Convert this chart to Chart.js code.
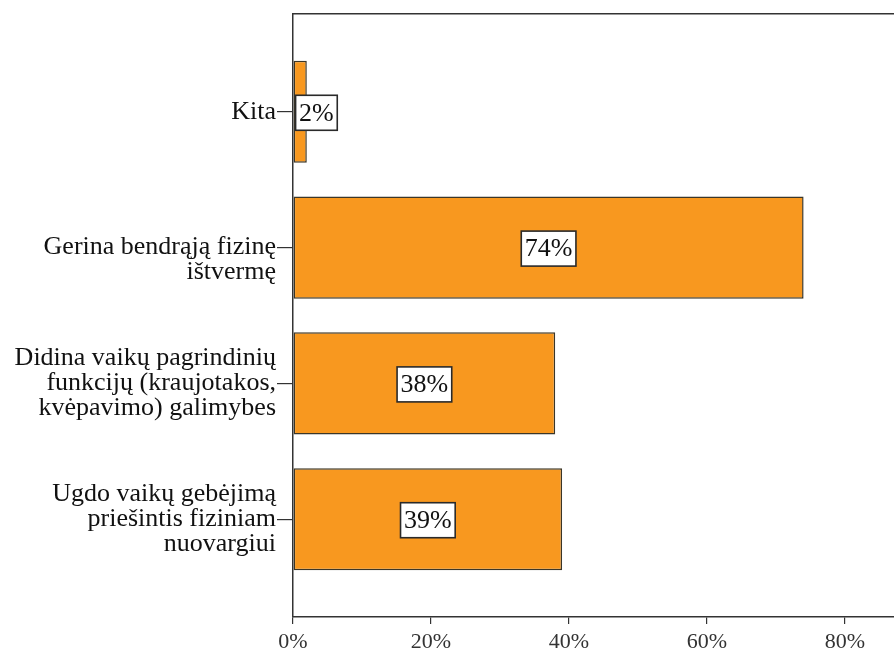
<!DOCTYPE html>
<html>
<head>
<meta charset="utf-8">
<script src="https://cdn.jsdelivr.net/npm/chart.js@4/dist/chart.umd.min.js"></script>
<style>
  html, body { margin: 0; padding: 0; background: #fff; overflow: hidden; }
  canvas { display: block; }
</style>
</head>
<body>
<canvas id="chart" width="894" height="653"></canvas>
<script>
// answers, top to bottom (multi-line labels as arrays)
const categories = [
    ['Kita'],
    ['Gerina bendrąją fizinę', 'ištvermę'],
    ['Didina vaikų pagrindinių', 'funkcijų (kraujotakos,', 'kvėpavimo) galimybes'],
    ['Ugdo vaikų gebėjimą', 'priešintis fiziniam', 'nuovargiui']
]
// share of respondents, %
const shares = [2, 74, 38, 39]
const percentTicks = [0, 20, 40, 60, 80]

const serif = '"Liberation Serif", "Times New Roman", serif'
const axisColor = '#333'
const xMax = 87.1

// two-line labels sit with their first line on the tick, so pad them on top
const tickLines = (lines) => lines.length % 2 === 0 ? [''].concat(lines) : lines

const noPadding = (scale) => {
    scale.paddingTop = 0
    scale.paddingBottom = 0
    scale.paddingLeft = 0
    scale.paddingRight = 0
}

// white boxed value label on every bar; pushed to the right of the base when the bar is too short
const valueBoxes = {
    id: 'valueBoxes',
    afterDatasetsDraw(chart) {
        const ctx = chart.ctx
        const meta = chart.getDatasetMeta(0)
        ctx.save()
        ctx.font = '26px ' + serif
        meta.data.forEach((bar, i) => {
            const text = shares[i] + '%'
            const w = ctx.measureText(text).width + 7
            const h = 35
            const len = bar.x - bar.base
            let cx = (bar.x + bar.base) / 2
            if (w > len - 4) cx = bar.base + 2 + w / 2
            const cy = bar.y + 1
            ctx.fillStyle = '#fff'
            ctx.fillRect(cx - w / 2, cy - h / 2, w, h)
            ctx.lineWidth = 1.6
            ctx.strokeStyle = '#2a2a2a'
            ctx.strokeRect(cx - w / 2, cy - h / 2, w, h)
            ctx.fillStyle = '#111'
            ctx.textAlign = 'center'
            ctx.textBaseline = 'middle'
            ctx.fillText(text, cx, cy + 1)
        })
        ctx.restore()
    }
}

new Chart(document.getElementById('chart'), {
    type: 'bar',
    data: {
        datasets: [{
            data: shares.map((v, i) => ({x: v, y: i})),
            backgroundColor: '#F8981F',
            borderColor: '#3b3628',
            borderWidth: 1.5,
            borderSkipped: false,
            categoryPercentage: 1,
            barPercentage: 0.752
        }]
    },
    options: {
        indexAxis: 'y',
        responsive: false,
        animation: false,
        layout: {autoPadding: false, padding: {top: 14, right: 0, bottom: 0, left: 0}},
        plugins: {legend: {display: false}, tooltip: {enabled: false}},
        scales: {
            y: {
                type: 'linear',
                reverse: true,
                offset: false,
                min: -0.72,
                max: 3.72,
                afterBuildTicks: (scale) => {
                    scale.ticks = categories.map((_, i) => ({value: i}))
                },
                afterFit: (scale) => {
                    scale.width = 293
                    noPadding(scale)
                },
                ticks: {
                    callback: (v) => tickLines(categories[v]),
                    color: '#111',
                    padding: 1,
                    font: {family: serif, size: 26, lineHeight: 0.96}
                },
                grid: {display: true, offset: false, drawOnChartArea: false, tickLength: 16, color: axisColor, lineWidth: 1.2},
                border: {display: true, color: axisColor, width: 1.5}
            },
            x: {
                type: 'linear',
                min: 0,
                max: xMax,
                afterBuildTicks: (scale) => {
                    scale.ticks = percentTicks.map(v => ({value: v}))
                },
                afterFit: (scale) => {
                    scale.height = 36
                    noPadding(scale)
                },
                ticks: {
                    callback: (v) => v + '%',
                    color: '#333',
                    padding: 5,
                    font: {family: serif, size: 22}
                },
                grid: {display: true, drawOnChartArea: false, tickLength: 7, color: axisColor, lineWidth: 1.2},
                border: {display: true, color: axisColor, width: 1.5}
            },
            // frame line along the top of the plot
            top: {
                type: 'linear',
                position: 'top',
                min: 0,
                max: xMax,
                afterFit: (scale) => {
                    scale.height = 0
                    noPadding(scale)
                },
                ticks: {display: false},
                grid: {display: true, drawOnChartArea: false, drawTicks: false, tickLength: 0},
                border: {display: true, color: axisColor, width: 1.5}
            }
        }
    },
    plugins: [valueBoxes]
})
</script>
</body>
</html>
